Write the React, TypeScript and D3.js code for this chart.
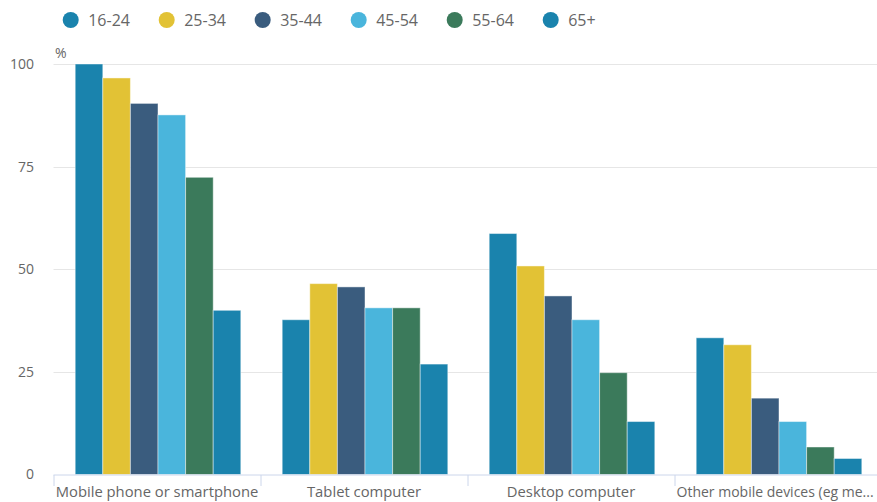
import React from "react";
import * as d3 from "d3";

const categories = [
  "Mobile phone or smartphone",
  "Tablet computer",
  "Desktop computer",
  "Other mobile devices (eg me...",
];
const ageGroups = ["16-24", "25-34", "35-44", "45-54", "55-64", "65+"];
const colors = ["#1a83ad", "#e2c235", "#3a5c7e", "#4ab5dc", "#3b7a5b", "#1a83ad"];

// share of each age group (%) using each device, per category
const age16to24 = [100, 37.7, 58.7, 33.3];
const age25to34 = [96.6, 46.5, 50.8, 31.6];
const age35to44 = [90.4, 45.7, 43.5, 18.6];
const age45to54 = [87.6, 40.6, 37.7, 12.9];
const age55to64 = [72.4, 40.6, 24.8, 6.7];
const age65plus = [40, 26.9, 12.9, 3.9];
const seriesValues = [age16to24, age25to34, age35to44, age45to54, age55to64, age65plus];

const yTicks = [0, 25, 50, 75, 100];

const W = 877;
const H = 502;
const FONT = "'Open Sans', 'DejaVu Sans', sans-serif";

export default function App() {
  const x = d3.scaleBand<string>().domain(categories).range([53.5, 881.5]).padding(0);
  const bw = x.bandwidth();
  const inner = d3
    .scaleBand<string>()
    .domain(ageGroups)
    .range([bw * 0.1 + 1, bw * 0.9 + 1])
    .padding(0);
  const y = d3.scaleLinear().domain([0, 100]).range([474.5, 64]);

  return (
    <div style={{ position: "absolute", left: 0, top: 0 }}>
      <svg width={W} height={H} style={{ display: "block", background: "#fff" }} fontFamily={FONT}>
        {/* legend */}
        {ageGroups.map((g, i) => (
          <g key={g} transform={`translate(${70.7 + 96 * i},20)`}>
            <circle r={8} fill={colors[i]} />
            <text x={17.5} y={0} dy="0.35em" fontSize={16} fill="#666">
              {g}
            </text>
          </g>
        ))}

        {/* gridlines */}
        {yTicks
          .filter((t) => t > 0)
          .map((t) => (
            <line key={t} x1={53.5} x2={W} y1={Math.round(y(t)) + 0.5} y2={Math.round(y(t)) + 0.5} stroke="#e6e6e6" />
          ))}

        {/* y labels */}
        {yTicks.map((t) => (
          <text key={t} x={34} y={y(t)} dy="0.35em" textAnchor="end" fontSize={14} fill="#666">
            {t}
          </text>
        ))}
        <text x={55} y={58} fontSize={14} fill="#666">
          %
        </text>

        {/* bars */}
        {categories.map((c, ci) => (
          <g key={c} transform={`translate(${x(c)},0)`}>
            {ageGroups.map((g, si) => {
              const v = seriesValues[si][ci];
              return (
                <rect
                  key={g}
                  x={inner(g)}
                  y={y(v)}
                  width={inner.bandwidth()}
                  height={y(0) - y(v)}
                  fill={colors[si]}
                  stroke="rgba(255,255,255,0.45)"
                  strokeWidth={1}
                />
              );
            })}
          </g>
        ))}

        {/* x axis */}
        <line x1={53.5} x2={W} y1={475} y2={475} stroke="#ccd6eb" />
        {categories.map((c) => (
          <line key={c} x1={x(c)! + 0.5} x2={x(c)! + 0.5} y1={475} y2={486} stroke="#ccd6eb" />
        ))}
        {categories.map((c, i) =>
          i < categories.length - 1 ? (
            <text key={c} x={x(c)! + bw / 2} y={496.5} textAnchor="middle" fontSize={14.8} fill="#666">
              {c}
            </text>
          ) : (
            <text key={c} x={x(c)! + 2} y={496.5} textAnchor="start" fontSize={14} fill="#666">
              {c}
            </text>
          )
        )}
      </svg>
    </div>
  );
}
